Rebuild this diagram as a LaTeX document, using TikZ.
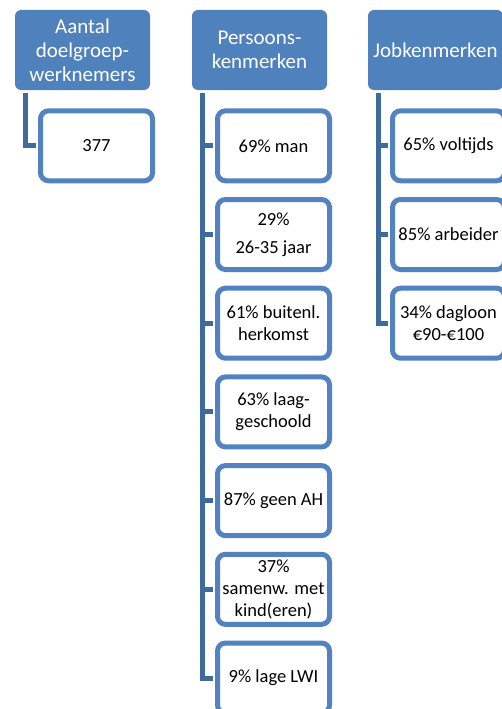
\documentclass[tikz,border=0pt]{standalone}
\usepackage{fontspec}
\setmainfont{Carlito}
\usetikzlibrary{positioning}
\definecolor{hdrblue}{HTML}{4F81BD}
\definecolor{kidblue}{HTML}{5283C0}
\definecolor{linkblue}{HTML}{3F6A9C}
\begin{document}
\begin{tikzpicture}[x=1pt,y=1pt,node distance=88.7pt]
	\useasboundingbox (0,0) rectangle (501,-709);
	\tikzstyle{head}=[rectangle, rounded corners=6pt, fill=hdrblue, text=white, minimum width=135pt, minimum height=80pt, align=center, inner sep=0pt, font=\fontsize{21}{24}\selectfont]
	\tikzstyle{kid}=[rectangle, rounded corners=8pt, draw=kidblue, line width=5pt, fill=white, minimum width=112pt, minimum height=70pt, align=center, inner sep=0pt, font=\fontsize{18.5}{22}\selectfont]
	\tikzstyle{link}=[draw=linkblue, line width=5pt, shorten >=2.5pt]
	
	\node[head] (H1) at (82.5,-50) {Aantal\\doelgroep-\\werknemers};
	\node[head] (H2) at (259.5,-50) {Persoons-\\kenmerken};
	\node[head] (H3) at (435.5,-50) {Jobkenmerken};
	
	\node[kid] (A1) at (96.5,-145.8) {377};
	
	\node[kid] (P1) at (273.5,-145.8) {69\% man};
	\node[kid, below of=P1] (P2) {29\%\\[6pt]26-35 jaar};
	\node[kid, below of=P2] (P3) {61\% buitenl.\\herkomst};
	\node[kid, below of=P3] (P4) {63\% laag-\\geschoold};
	\node[kid, below of=P4] (P5) {87\% geen AH};
	\node[kid, below of=P5] (P6) {37\%\\samenw. met\\kind(eren)};
	\node[kid, below of=P6] (P7) {9\% lage LWI};
	
	\node[kid] (J1) at (448.5,-145.8) {65\% voltijds};
	\node[kid, below of=J1] (J2) {85\% arbeider};
	\node[kid, below of=J2] (J3) {34\% dagloon\\€90-€100};
	
	\begin{scope}[link]
		\draw (H1.south west) ++(11,-3) |- (A1.west);
		\foreach \i in {1,...,7}
			\draw (H2.south west) ++(10.5,-3) |- (P\i.west);
		\foreach \i in {1,2,3}
			\draw (H3.south west) ++(11,-3) |- (J\i.west);
	\end{scope}
\end{tikzpicture}
\end{document}
